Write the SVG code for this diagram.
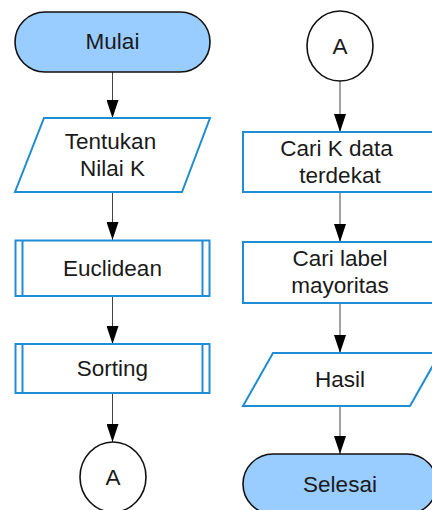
<svg xmlns="http://www.w3.org/2000/svg" width="432" height="510" viewBox="0 0 432 510">
  <defs>
    <marker id="arrow" markerUnits="userSpaceOnUse" markerWidth="18" markerHeight="12" viewBox="0 0 18 12" refX="18" refY="6" orient="auto">
      <path d="M0,0 L18,6 L0,12 z" fill="#000"/>
    </marker>
    <style>
      .term { fill: #99ccff; stroke: #111; stroke-width: 1.6; }
      .box { fill: #fff; stroke: #1f8dd3; stroke-width: 2; }
      .conn { fill: #fff; stroke: #111; stroke-width: 1.6; }
      .edge { stroke: #444; stroke-width: 1; fill: none; marker-end: url(#arrow); }
      text { font-family: "Liberation Sans", Arial, sans-serif; font-size: 22.5px; fill: #1a1a1a; text-anchor: middle; }
    </style>
  </defs>
  <rect width="432" height="510" fill="#fff"/>

  <!-- connectors -->
  <g id="connectors">
    <line class="edge" x1="112.5" y1="72" x2="112.5" y2="118"/>
    <line class="edge" x1="112.5" y1="192" x2="112.5" y2="240"/>
    <line class="edge" x1="112.5" y1="296" x2="112.5" y2="344"/>
    <line class="edge" x1="112.5" y1="393" x2="112.5" y2="442"/>
    <line class="edge" x1="340" y1="81" x2="340" y2="132"/>
    <line class="edge" x1="340" y1="192" x2="340" y2="242"/>
    <line class="edge" x1="340" y1="303" x2="340" y2="353"/>
    <line class="edge" x1="340" y1="406" x2="340" y2="454"/>
  </g>

  <!-- left column -->
  <g id="mulai">
    <rect class="term" x="15" y="12" width="195" height="60" rx="30" ry="30"/>
    <text x="112.5" y="49">Mulai</text>
  </g>
  <g id="tentukan">
    <polygon class="box" points="44,118 210,118 182,192 15,192"/>
    <text x="110.5" y="149">Tentukan</text>
    <text x="112.5" y="176">Nilai K</text>
  </g>
  <g id="euclidean">
    <rect class="box" x="15.5" y="240.5" width="194" height="55.5"/>
    <line class="box" x1="22.5" y1="240.5" x2="22.5" y2="296"/>
    <line class="box" x1="202.5" y1="240.5" x2="202.5" y2="296"/>
    <text x="112.5" y="275.5">Euclidean</text>
  </g>
  <g id="sorting">
    <rect class="box" x="15.5" y="344" width="194" height="49"/>
    <line class="box" x1="22.5" y1="344" x2="22.5" y2="393"/>
    <line class="box" x1="202.5" y1="344" x2="202.5" y2="393"/>
    <text x="112.5" y="376">Sorting</text>
  </g>
  <g id="connector-a-out">
    <ellipse class="conn" cx="113" cy="477" rx="33" ry="35"/>
    <text x="113" y="484.5">A</text>
  </g>

  <!-- right column -->
  <g id="connector-a-in">
    <ellipse class="conn" cx="340" cy="46" rx="33" ry="35"/>
    <text x="340" y="53.5">A</text>
  </g>
  <g id="cari-k">
    <rect class="box" x="243" y="132" width="194" height="60"/>
    <text x="336.5" y="156">Cari K data</text>
    <text x="340" y="183">terdekat</text>
  </g>
  <g id="cari-label">
    <rect class="box" x="243" y="242" width="194" height="61"/>
    <text x="340" y="266">Cari label</text>
    <text x="340" y="293">mayoritas</text>
  </g>
  <g id="hasil">
    <polygon class="box" points="273,353 440,353 410,406 243,406"/>
    <text x="340" y="387">Hasil</text>
  </g>
  <g id="selesai">
    <rect class="term" x="243" y="454" width="194" height="60" rx="30" ry="30"/>
    <text x="340" y="491.5">Selesai</text>
  </g>
</svg>
